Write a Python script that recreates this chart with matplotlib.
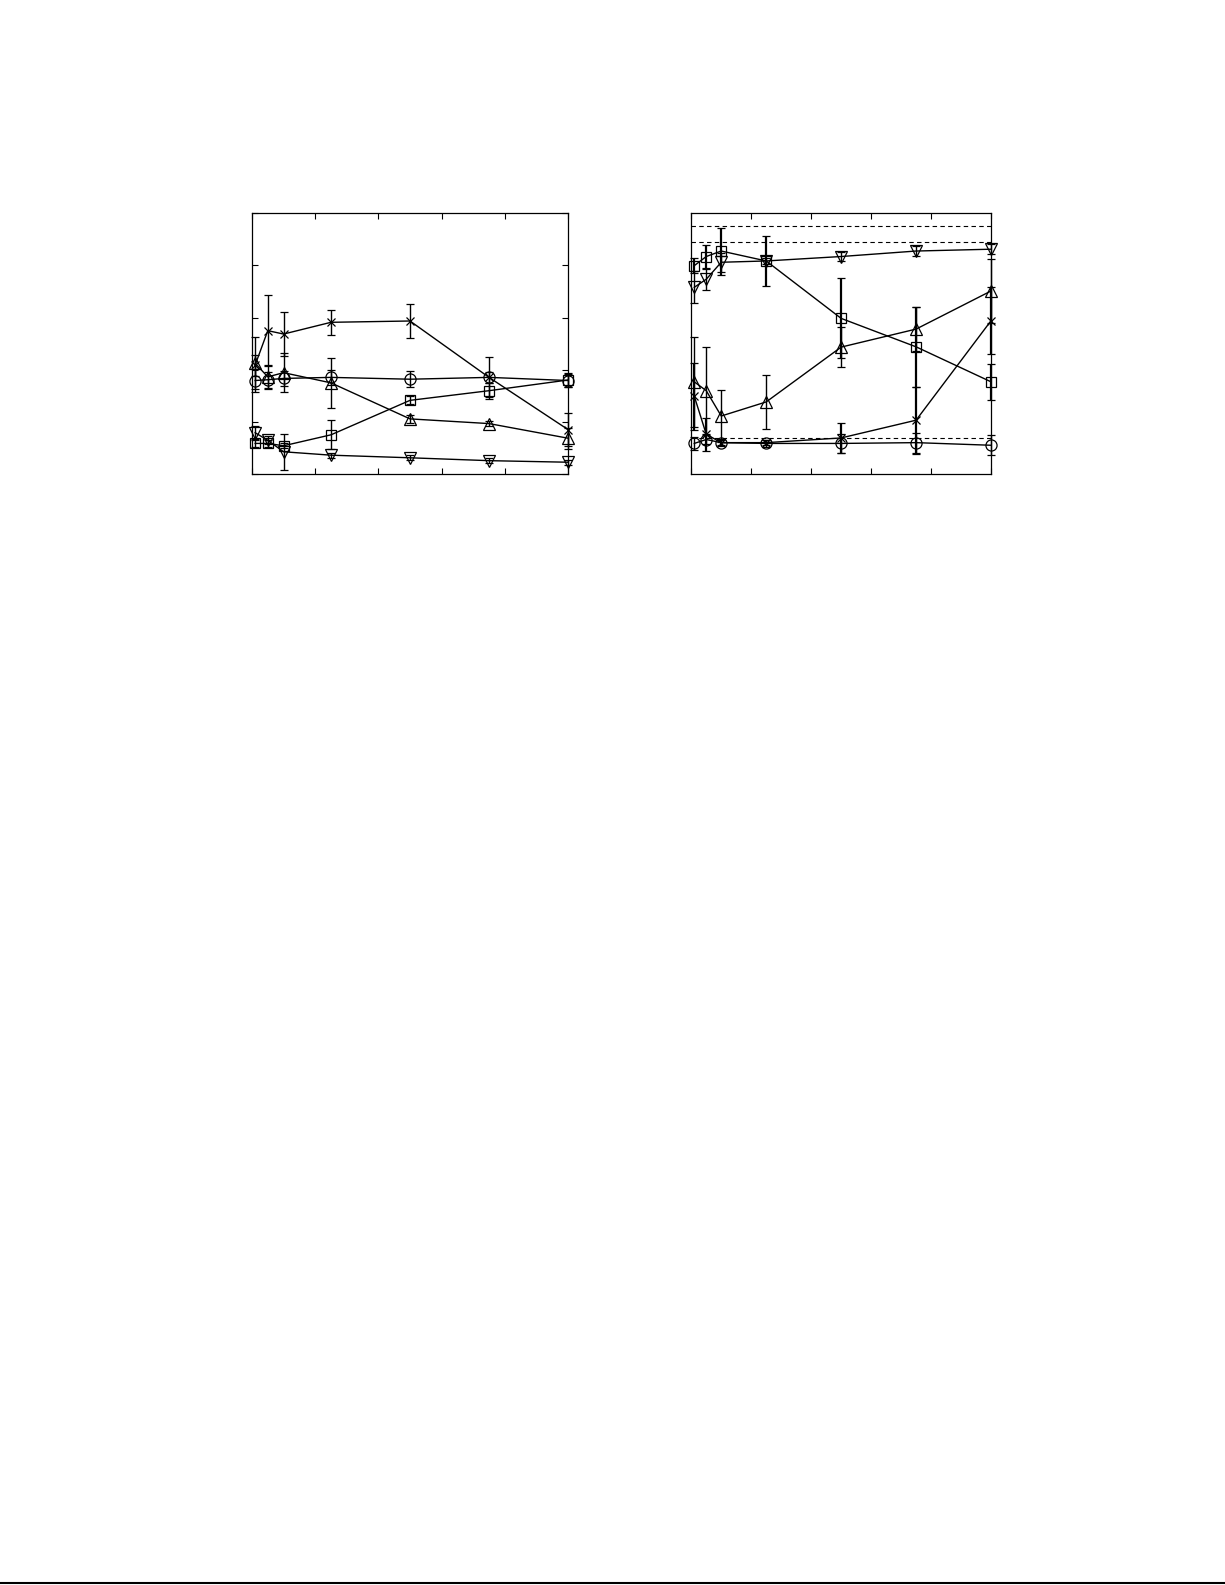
import matplotlib
matplotlib.use('Agg')
import matplotlib.pyplot as plt
from matplotlib.lines import Line2D

# shared x positions
x = [1, 5, 10, 25, 50, 75, 100]

# left panel
left_circle = [35.9, 36.2, 36.7, 37.1, 36.4, 37.1, 35.9]
left_circle_err = [4.5, 3.0, 3.0, 3.0, 3.0, 2.0, 2.5]
left_triup = [42.5, 37.3, 38.9, 35.0, 21.2, 19.4, 13.8]
left_triup_err = [10.0, 4.5, 7.5, 9.5, 1.5, 1.0, 4.0]
left_cross = [41.8, 55.0, 53.7, 58.2, 58.7, 37.1, 17.1]
left_cross_err = [4.0, 13.7, 8.6, 4.9, 6.6, 7.7, 6.4]
left_square = [11.8, 11.8, 10.9, 15.1, 28.3, 32.0, 36.1]
left_square_err = [1.5, 1.5, 1.0, 5.5, 1.5, 3.0, 2.5]
left_tridown = [15.9, 13.0, 8.6, 7.3, 6.3, 5.2, 4.6]
left_tridown_err = [2.5, 1.5, 7.0, 1.0, 1.0, 1.0, 1.0]

# right panel
right_square = [79.9, 83.4, 85.5, 81.7, 59.7, 48.8, 35.4]
right_square_err = [2.8, 4.5, 9.0, 9.6, 15.3, 15.3, 7.0]
right_tridown = [71.6, 74.7, 81.2, 81.7, 83.4, 85.5, 86.2]
right_tridown_err = [6.1, 4.1, 3.6, 1.0, 1.9, 1.8, 1.9]
right_triup = [35.4, 32.0, 22.3, 27.7, 48.7, 55.6, 70.2]
right_triup_err = [17.3, 16.6, 9.8, 10.2, 7.7, 8.3, 12.1]
right_cross = [29.9, 15.3, 12.1, 12.1, 13.9, 20.7, 58.8]
right_cross_err = [12.8, 6.4, 1.3, 1.0, 5.8, 12.8, 12.8]
right_circle = [11.8, 13.3, 12.1, 11.8, 11.8, 12.1, 11.1]
right_circle_err = [2.6, 1.9, 1.0, 1.3, 3.8, 3.8, 3.8]
right_hlines = [95.1, 88.9, 13.7]

fig = plt.figure(figsize=(12.25, 15.85), dpi=100)
ax1 = fig.add_axes([0.2057, 0.7008, 0.258, 0.1647])
ax2 = fig.add_axes([0.5643, 0.7008, 0.2447, 0.1647])


def draw(ax, series):
    for y, err, m, ms, ew in series:
        ax.errorbar(x, y, yerr=err, color='black', marker=m, markersize=ms,
                    markerfacecolor='none', markeredgewidth=0.9, linewidth=1.0,
                    elinewidth=ew, capsize=3, capthick=1.3, clip_on=False)


draw(ax1, [
    (left_circle, left_circle_err, 'o', 8, 1.0),
    (left_triup, left_triup_err, '^', 8, 1.0),
    (left_cross, left_cross_err, 'x', 6, 1.0),
    (left_square, left_square_err, 's', 6.5, 1.0),
    (left_tridown, left_tridown_err, 'v', 8, 1.0),
])
draw(ax2, [
    (right_square, right_square_err, 's', 6.5, 1.6),
    (right_tridown, right_tridown_err, 'v', 8, 1.0),
    (right_triup, right_triup_err, '^', 8, 1.0),
    (right_cross, right_cross_err, 'x', 6, 1.6),
    (right_circle, right_circle_err, 'o', 8, 1.0),
])
for h in right_hlines:
    ax2.axhline(h, color='black', linestyle='--', linewidth=0.8, dashes=(4, 3))

for ax in (ax1, ax2):
    ax.set_xlim(0, 100)
    ax.set_ylim(0, 100)
    ax.set_xticks([0, 20, 40, 60, 80, 100])
    ax.tick_params(direction='in', length=4, width=0.8, top=True, right=True,
                   labelbottom=False, labelleft=False)
    for s in ax.spines.values():
        s.set_linewidth(0.9)
ax1.set_yticks([0, 20, 40, 60, 80, 100])
ax2.set_yticks([])

# rule at the bottom of the page
fig.add_artist(Line2D([0, 1], [0.001, 0.001], color='black', linewidth=1.5,
                      transform=fig.transFigure))

fig.savefig('out.png', dpi=100)
